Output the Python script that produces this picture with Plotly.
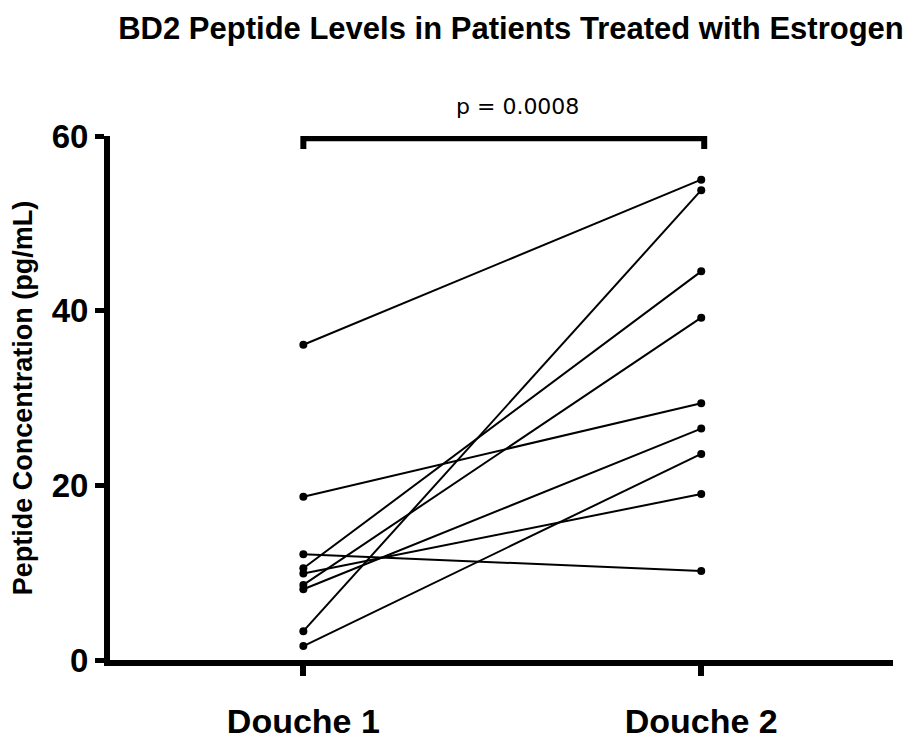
import plotly.graph_objects as go

categories = ["Douche 1", "Douche 2"]
douche1 = [36.1, 18.7, 12.1, 10.5, 9.9, 8.6, 8.1, 3.3, 1.6]
douche2 = [55.0, 29.4, 10.2, 44.5, 19.0, 39.2, 26.5, 53.8, 23.6]
y_ticks = [0, 20, 40, 60]
p_label = "p = 0.0008"
title = "BD2 Peptide Levels in Patients Treated with Estrogen"
y_title = "Peptide Concentration (pg/mL)"

FONT = "Liberation Sans, Arial, sans-serif"
W, H = 909, 732  # page body adds an 8px offset

fig = go.Figure()
for a, b in zip(douche1, douche2):
    fig.add_trace(go.Scatter(
        x=[0, 1], y=[a, b], mode="lines+markers",
        line=dict(color="black", width=2),
        marker=dict(color="black", size=8),
        showlegend=False, cliponaxis=False, hoverinfo="skip"))

# significance bracket
br_y = 59.75
br_tip = 58.5
fig.add_shape(type="path", xref="x", yref="y",
              path=f"M 0,{br_tip} L 0,{br_y} L 1.0075,{br_y} L 1.0075,{br_tip}",
              line=dict(color="black", width=6))
fig.add_annotation(x=0.538, y=1.056, xref="x", yref="paper", text=p_label, showarrow=False,
                   yanchor="middle",
                   font=dict(family="DejaVu Sans", size=22, color="black"))

fig.update_layout(
    width=W, height=H,
    margin=dict(l=101.5, r=24, t=127.5, b=80, autoexpand=False),
    paper_bgcolor="white", plot_bgcolor="white",
    title=dict(text=title, x=503 / W, xref="container", xanchor="center",
               y=1 - 20 / H, yanchor="middle",
               font=dict(family=FONT, size=31, color="black", weight="bold")),
    font=dict(family=FONT, color="black"),
)
fig.update_xaxes(
    range=[-0.486, 1.482], tickvals=[0, 1], ticktext=categories,
    showline=True, linecolor="black", linewidth=6, mirror=False,
    ticks="outside", ticklen=10, tickwidth=6, tickcolor="black",
    tickfont=dict(family=FONT, size=34, color="black", weight="bold"),
    ticklabelstandoff=16, automargin=False,
    showgrid=False, zeroline=False)
fig.update_yaxes(
    range=[0, 60], tickvals=y_ticks,
    showline=True, linecolor="black", linewidth=6,
    ticks="outside", ticklen=9, tickwidth=5, tickcolor="black",
    tickfont=dict(family=FONT, size=33, color="black", weight="bold"),
    ticklabelstandoff=0, automargin=False,
    title=dict(text=y_title, standoff=14,
               font=dict(family=FONT, size=27, color="black", weight="bold")),
    showgrid=False, zeroline=False)

fig.write_html("out.html")
